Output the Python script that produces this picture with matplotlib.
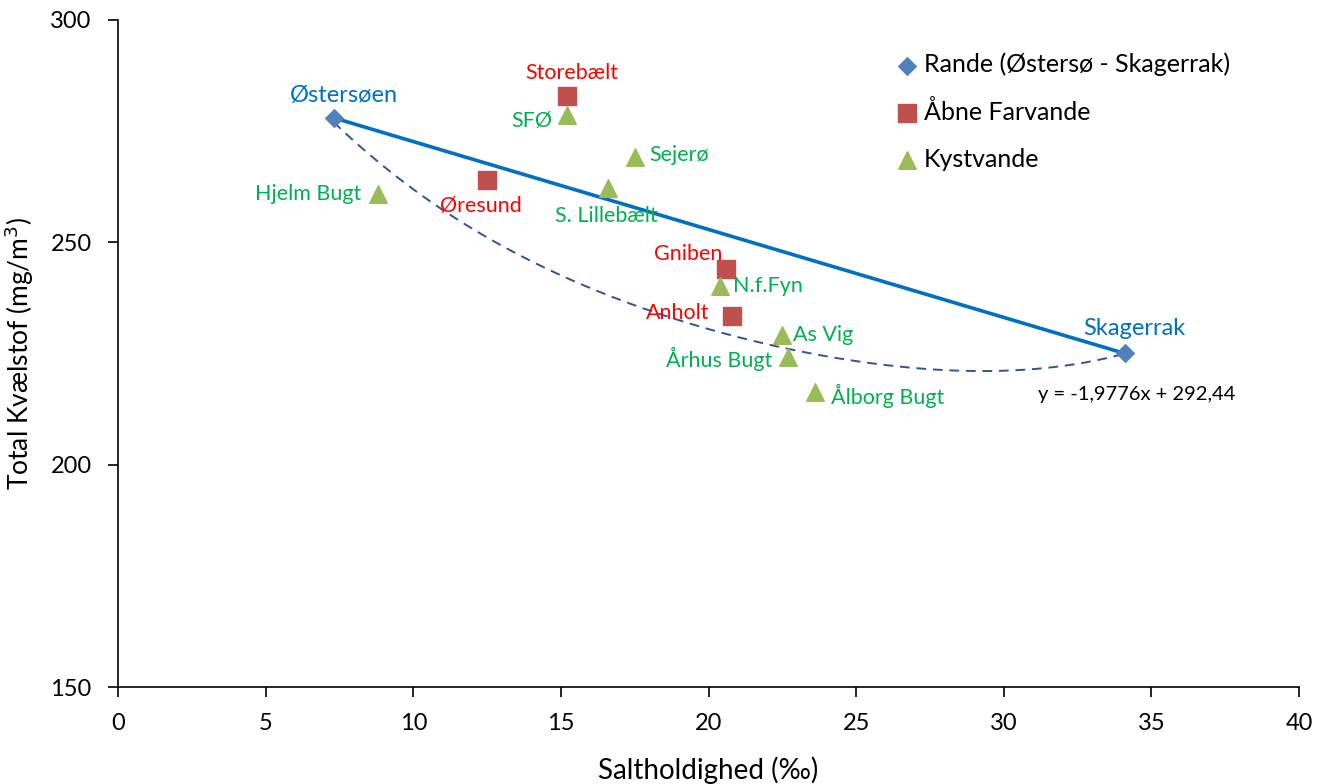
import numpy as np
import matplotlib
matplotlib.use("Agg")
import matplotlib.pyplot as plt

plt.rcParams['font.family'] = ['Lato', 'DejaVu Sans']

# Rande (endpoints of the mixing line)
rande_names = ['Østersøen', 'Skagerrak']
rande_x = [7.3, 34.1]
rande_y = [278.0, 225.1]

# Åbne farvande
open_names = ['Storebælt', 'Øresund', 'Gniben', 'Anholt']
open_x = [15.2, 12.5, 20.6, 20.8]
open_y = [283.0, 264.0, 244.0, 233.4]

# Kystvande
coast_names = ['SFØ', 'Sejerø', 'S. Lillebælt', 'Hjelm Bugt', 'N.f.Fyn',
               'As Vig', 'Århus Bugt', 'Ålborg Bugt']
coast_x = [15.2, 17.5, 16.6, 8.8, 20.4, 22.5, 22.7, 23.6]
coast_y = [278.6, 269.3, 262.2, 260.8, 240.2, 229.1, 224.2, 216.3]

# dashed curve
curve_x = [7.3, 8.5, 10.0, 11.0, 12.3, 14.5, 16.8, 18.5, 21.0, 22.1, 24.4, 25.1, 28.3, 31.3, 34.1]
curve_y = [278.0, 268.5, 261.8, 257.3, 251.7, 245.4, 237.7, 232.7, 228.7, 226.9, 224.2, 222.9, 221.1, 222.0, 224.8]

slope, intercept = -1.9776, 292.44

blue_txt = '#0070C0'
red_txt = '#FF0000'
green_txt = '#00B050'

fig = plt.figure(figsize=(13.26, 7.84), dpi=100)
ax = fig.add_axes([0.089, 0.1237, 0.8907, 0.8508])

# regression line between the two end members
lx = np.array(rande_x)
ax.plot(lx, slope * lx + intercept, color='#0070C0', lw=2.6, zorder=2)

# smooth the hand-read curve points
coef = np.polyfit(curve_x, curve_y, 4)
cx = np.linspace(curve_x[0], curve_x[-1], 200)
ax.plot(cx, np.polyval(coef, cx), color='#2F5597', lw=1.4, ls=(0, (5, 3.5)), zorder=2)

ax.scatter(rande_x, rande_y, marker='D', s=80, color='#4F81BD', zorder=3,
           label='Rande (Østersø - Skagerrak)')
ax.scatter(open_x, open_y, marker='s', s=160, color='#C0504D', zorder=3,
           label='Åbne Farvande')
ax.scatter(coast_x, coast_y, marker='^', s=160, color='#9BBB59', zorder=3,
           label='Kystvande')

fs = 15.5
rande_off = [(10, 22), (9, 25)]
for n, x, y, o in zip(rande_names, rande_x, rande_y, rande_off):
    ax.annotate(n, (x, y), xytext=o, textcoords='offset pixels', ha='center',
                va='center', color=blue_txt, fontsize=17)

open_off = [(5, 23), (-6, -26), (-38, 15), (-54, 3)]
for n, x, y, o in zip(open_names, open_x, open_y, open_off):
    ax.annotate(n, (x, y), xytext=o, textcoords='offset pixels', ha='center',
                va='center', color=red_txt, fontsize=fs)

coast_off = [(-35, -6), (44, 2), (-2, -28), (-70, 0), (48, 0), (41, 0),
             (-69, -2), (73, -4)]
for n, x, y, o in zip(coast_names, coast_x, coast_y, coast_off):
    ax.annotate(n, (x, y), xytext=o, textcoords='offset pixels', ha='center',
                va='center', color=green_txt, fontsize=fs)

ax.text(34.5, 215.8, 'y = -1,9776x + 292,44', ha='center', va='center',
        fontsize=14.5, color='black')

ax.set_xlim(0, 40)
ax.set_ylim(150, 300)
ax.set_xticks(np.arange(0, 41, 5))
ax.set_yticks([150, 200, 250, 300])
ax.spines['top'].set_visible(False)
ax.spines['right'].set_visible(False)
ax.tick_params(direction='out', length=7, width=1.2, labelsize=17)
ax.tick_params(axis='x', pad=12)
ax.tick_params(axis='y', pad=12)
for s in ('left', 'bottom'):
    ax.spines[s].set_linewidth(1.2)

ax.set_xlabel('Saltholdighed (‰)', fontsize=20, labelpad=16)
ax.set_ylabel('Total Kvælstof (mg/m$^3$)', fontsize=19, labelpad=10)

ax.legend(loc='upper left', bbox_to_anchor=(884 / 1326, 1 - 40 / 784),
          bbox_transform=fig.transFigure, frameon=False, fontsize=18,
          handlelength=0.8, handletextpad=0.3, labelspacing=0.95,
          borderpad=0, scatterpoints=1)

fig.savefig('out.png', dpi=100)
